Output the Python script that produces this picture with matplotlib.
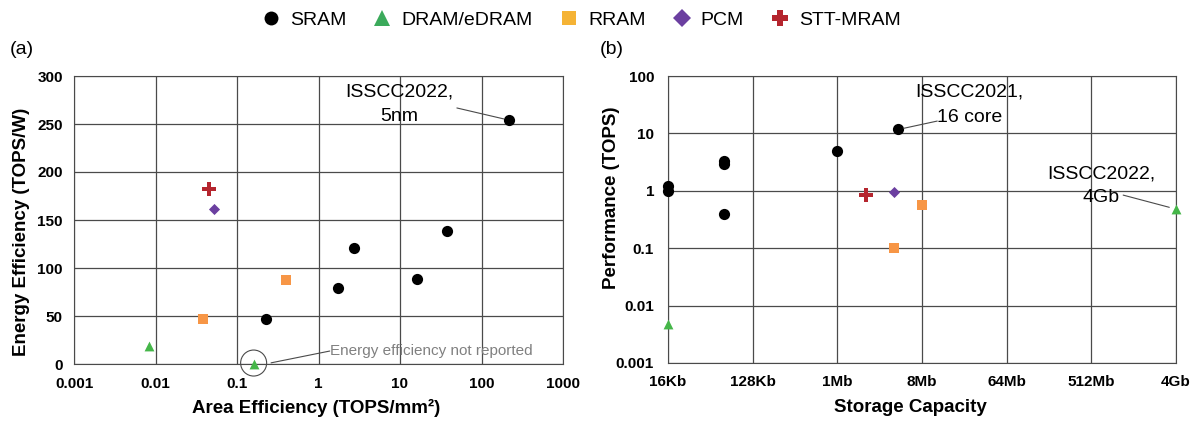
import matplotlib.pyplot as plt
from matplotlib.lines import Line2D
from matplotlib.patches import Ellipse
from matplotlib.ticker import FixedLocator, NullLocator

plt.rcParams['font.family'] = ['Liberation Sans', 'DejaVu Sans']

# (a) area efficiency (TOPS/mm2) vs energy efficiency (TOPS/W)
sram_area = [218, 38, 2.7, 16, 1.74, 0.23]
sram_energy = [254, 139, 121, 89, 79, 47]
dram_area = [0.0083, 0.16]
dram_energy = [19, 0]
rram_area = [0.038, 0.40]
rram_energy = [47, 87]
pcm_area = [0.052]
pcm_energy = [161]
stt_area = [0.045]
stt_energy = [182]

# (b) storage capacity (bits) vs performance (TOPS)
sram_cap = [2**14, 2**14, 2**16, 2**16, 2**16, 2**20, 2**22.16]
sram_perf = [1.23, 1.0, 3.3, 2.9, 0.39, 4.9, 11.7]
dram_cap = [2**14, 2**32]
dram_perf = [0.0047, 0.48]
rram_cap = [2**23, 2**22]
rram_perf = [0.57, 0.1]
pcm_cap = [2**22]
pcm_perf = [0.94]
stt_cap = [2**21]
stt_perf = [0.83]

cap_ticks = [2**14, 2**17, 2**20, 2**23, 2**26, 2**29, 2**32]
cap_labels = ['16Kb', '128Kb', '1Mb', '8Mb', '64Mb', '512Mb', '4Gb']

names = ['SRAM', 'DRAM/eDRAM', 'RRAM', 'PCM', 'STT-MRAM']
colors = ['black', '#45B649', '#F79646', '#6B3FA0', '#B5252E']
legend_colors = ['black', '#3BAA5B', '#F5B335', '#6B3FA0', '#B5252E']
markers = ['o', '^', 's', 'D', 'P']
sizes = [65, 50, 62, 32, 100]

W, H = 1199, 421
fig = plt.figure(figsize=(W / 100, H / 100), dpi=100)
# axes placed from pixel boxes (left, top, right, bottom)
ax1 = fig.add_axes([74 / W, 1 - 364 / H, (563 - 74) / W, (364 - 76) / H])
ax2 = fig.add_axes([668 / W, 1 - 363 / H, (1176 - 668) / W, (363 - 76) / H])

sets_a = [(sram_area, sram_energy), (dram_area, dram_energy), (rram_area, rram_energy),
          (pcm_area, pcm_energy), (stt_area, stt_energy)]
sets_b = [(sram_cap, sram_perf), (dram_cap, dram_perf), (rram_cap, rram_perf),
          (pcm_cap, pcm_perf), (stt_cap, stt_perf)]

for i in range(5):
    ax1.scatter(*sets_a[i], c=colors[i], marker=markers[i], s=sizes[i],
                linewidths=0, zorder=3, clip_on=False)
    ax2.scatter(*sets_b[i], c=colors[i], marker=markers[i], s=sizes[i],
                linewidths=0, zorder=3, clip_on=False)

# left panel axes
ax1.set_xscale('log')
ax1.set_xlim(0.001, 1000)
ax1.set_ylim(0, 300)
ax1.set_yticks(range(0, 301, 50))
ax1.set_xticks([0.001, 0.01, 0.1, 1, 10, 100, 1000])
ax1.set_xticklabels(['0.001', '0.01', '0.1', '1', '10', '100', '1000'])
ax1.xaxis.set_minor_locator(NullLocator())

# right panel axes
ax2.set_xscale('log', base=2)
ax2.set_yscale('log')
ax2.set_xlim(2**14, 2**32)
ax2.set_ylim(0.001, 100)
ax2.xaxis.set_major_locator(FixedLocator(cap_ticks))
ax2.xaxis.set_minor_locator(NullLocator())
ax2.set_xticklabels(cap_labels)
ax2.set_yticks([0.001, 0.01, 0.1, 1, 10, 100])
ax2.set_yticklabels(['0.001', '0.01', '0.1', '1', '10', '100'])
ax2.yaxis.set_minor_locator(NullLocator())

for ax, ypad in ((ax1, 8), (ax2, 10)):
    ax.grid(True, color='#4a4a4a', linewidth=0.9)
    ax.set_axisbelow(True)
    ax.tick_params(length=0, labelsize=11)
    ax.tick_params(axis='x', pad=9)
    ax.tick_params(axis='y', pad=ypad)
    for lab in ax.get_xticklabels() + ax.get_yticklabels():
        lab.set_fontweight('bold')
    for sp in ax.spines.values():
        sp.set_color('#4a4a4a')

# axis titles
lab = dict(fontsize=13.5, fontweight='bold', ha='center', va='center')
fig.text(316 / W, 1 - 408 / H, 'Area Efficiency (TOPS/mm²)', **lab)
fig.text(22 / W, 1 - 232 / H, 'Energy Efficiency (TOPS/W)', rotation=90, **lab)
fig.text(910 / W, 1 - 408 / H, 'Storage Capacity', **lab)
fig.text(612 / W, 1 - 198 / H, 'Performance (TOPS)', rotation=90, **lab)

# annotations
line = dict(arrowstyle='-', color='#4a4a4a', lw=0.8, shrinkA=0)
note = dict(fontsize=14, ha='center', va='center')

ax1.text(0.665, 0.944, 'ISSCC2022,', transform=ax1.transAxes, **note)
ax1.text(0.665, 0.858, '5nm', transform=ax1.transAxes, **note)
ax1.annotate('', xy=(sram_area[0], sram_energy[0]), xytext=(0.783, 0.889),
             textcoords='axes fraction', arrowprops=dict(line, shrinkB=4))

ax1.add_artist(Ellipse(ax1.transData.transform((dram_area[1], 1)), 26, 26,
                       transform=None, fill=False, edgecolor='#4a4a4a', lw=0.8,
                       clip_on=False))
ax1.text(0.524, 0.045, 'Energy efficiency not reported', transform=ax1.transAxes,
         fontsize=11, color='#808080', ha='left', va='center')
ax1.annotate('', xy=(0.403, 0.004), xytext=(0.523, 0.045), xycoords='axes fraction',
             textcoords='axes fraction', arrowprops=dict(line, shrinkB=0))

ax2.text(0.593, 0.944, 'ISSCC2021,', transform=ax2.transAxes, **note)
ax2.text(0.593, 0.857, '16 core', transform=ax2.transAxes, **note)
ax2.annotate('', xy=(sram_cap[6], sram_perf[6]), xytext=(0.530, 0.843),
             textcoords='axes fraction', arrowprops=dict(line, shrinkB=4))
ax2.text(0.852, 0.659, 'ISSCC2022,', transform=ax2.transAxes, **note)
ax2.text(0.852, 0.578, '4Gb', transform=ax2.transAxes, **note)
ax2.annotate('', xy=(dram_cap[1], dram_perf[1]), xytext=(0.896, 0.585),
             textcoords='axes fraction', arrowprops=dict(line, shrinkB=5))

fig.text(22 / W, 1 - 50 / H, '(a)', fontsize=14, ha='center', va='center')
fig.text(612 / W, 1 - 50 / H, '(b)', fontsize=14, ha='center', va='center')

handles = [Line2D([], [], linestyle='none', marker=markers[i], color=legend_colors[i],
                  markersize=[10, 11, 10, 9, 12][i], markeredgewidth=0) for i in range(5)]
fig.legend(handles, names, loc='center', bbox_to_anchor=(581 / W, 1 - 20 / H), ncol=5,
           frameon=False, fontsize=14, handletextpad=0.48, columnspacing=1.36,
           handlelength=1.0, borderpad=0, borderaxespad=0)

fig.savefig('out.png', dpi=100)
